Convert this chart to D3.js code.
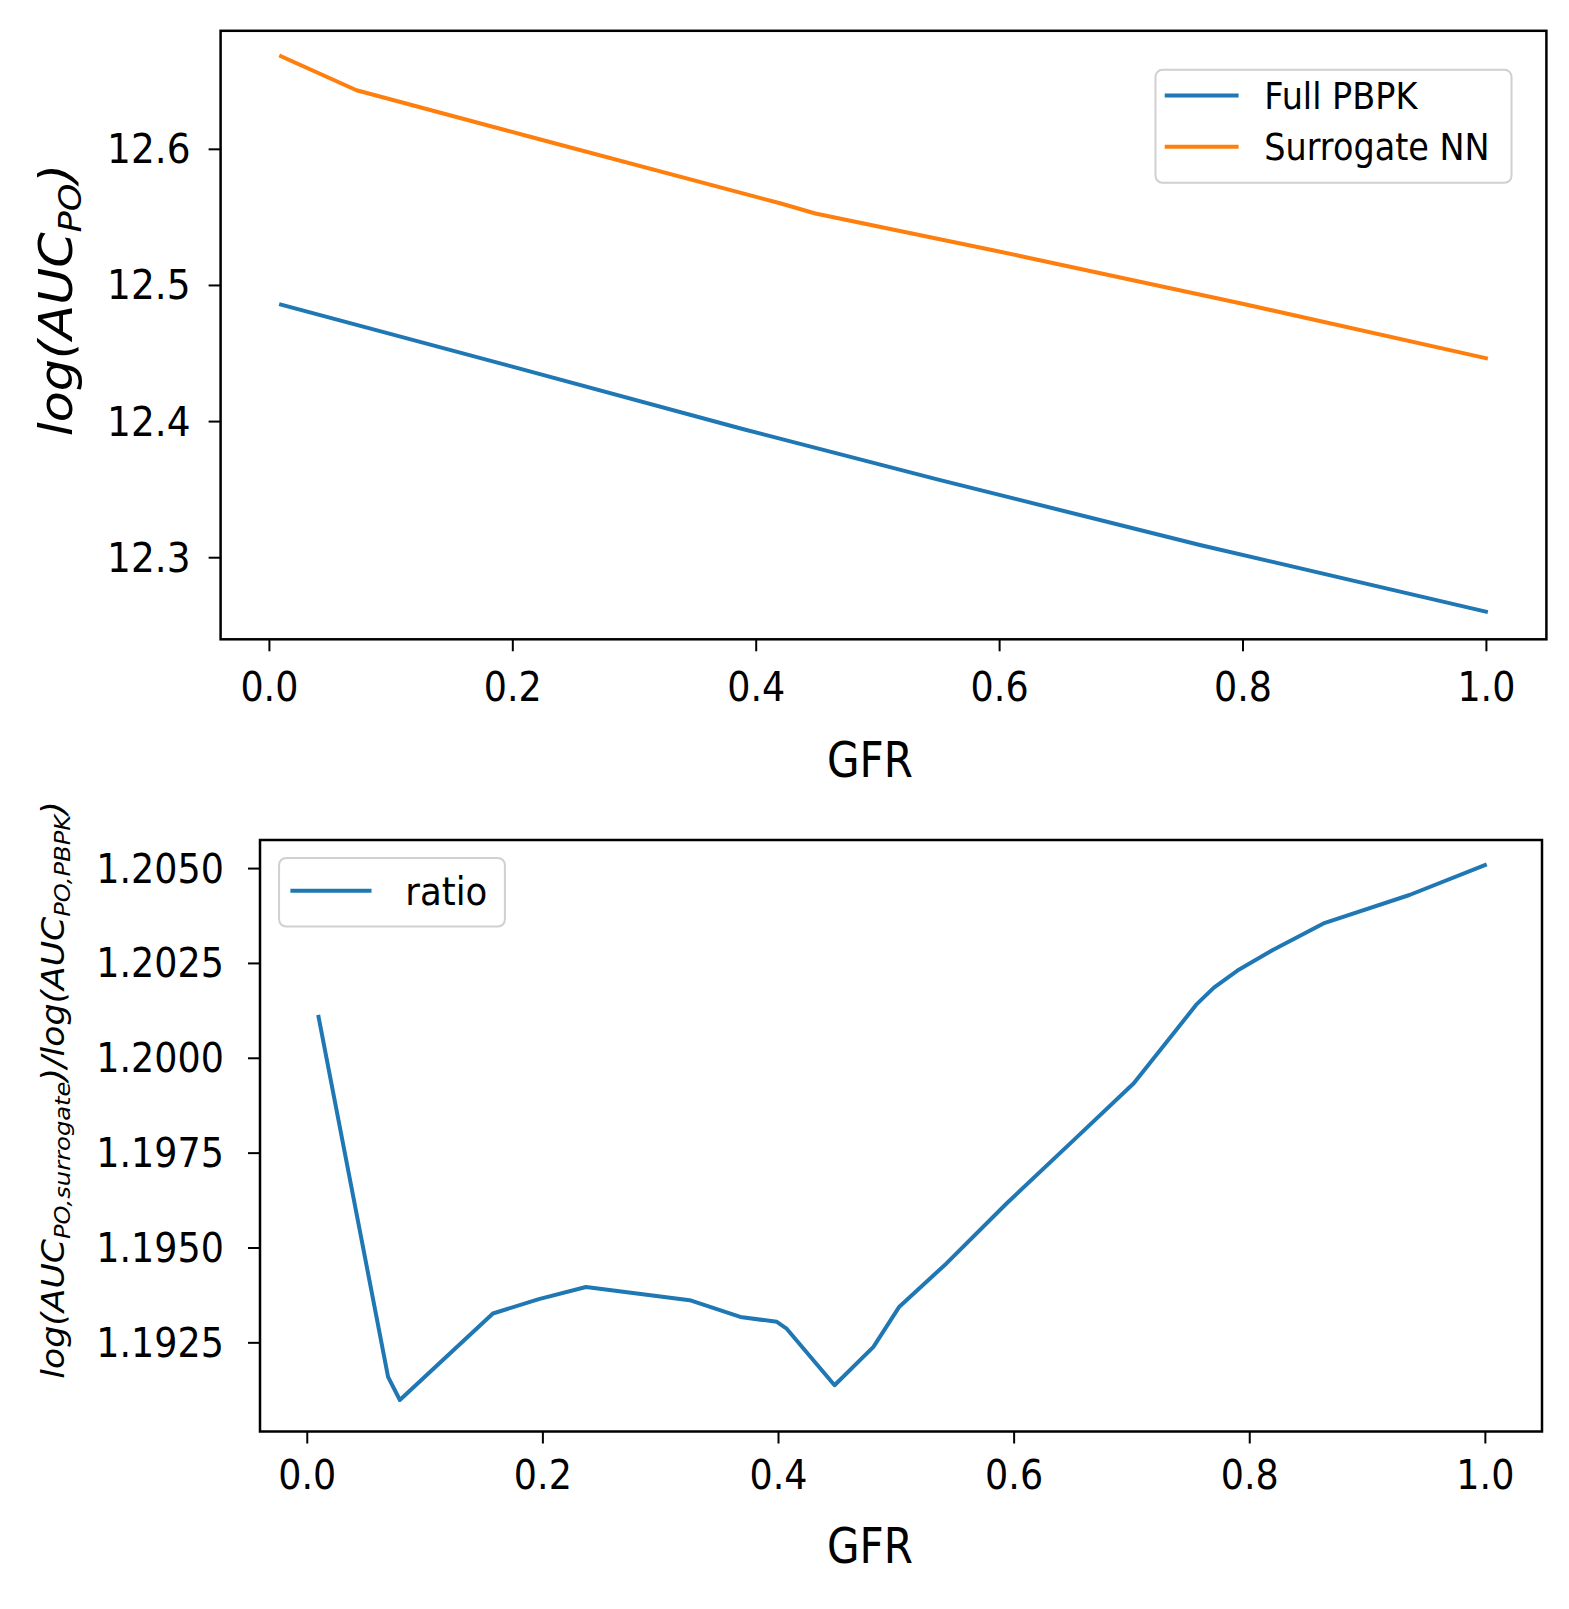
<!DOCTYPE html>
<html>
<head>
<meta charset="utf-8">
<script src="https://cdn.jsdelivr.net/npm/d3@7"></script>
<style>
  body { margin: 0; background: #fff; }
  text { font-family: "DejaVu Sans", sans-serif; fill: #000; }
</style>
</head>
<body>
<div id="chart"></div>
<script>
// valeurs
const gfrFull = [0.01, 0.20, 0.39, 0.55, 0.765, 1.0];
const aucFull = [12.4855, 12.440, 12.394, 12.357, 12.309, 12.260];

const gfrNN = [0.01, 0.072, 0.21, 0.42, 0.449, 0.60, 0.80, 1.0];
const aucNN = [12.668, 12.643, 12.610, 12.560, 12.5525, 12.5246, 12.4862, 12.4462];

const gfrRatio = [0.01, 0.069, 0.079, 0.158, 0.197, 0.237, 0.325, 0.368, 0.399, 0.407, 0.448, 0.481,
                  0.503, 0.543, 0.594, 0.651, 0.702, 0.738, 0.755, 0.770, 0.790, 0.820, 0.863, 0.936, 1.0];
const ratio = [1.20108, 1.19159, 1.19098, 1.19326, 1.19364, 1.19396, 1.19361, 1.19317, 1.19304, 1.19287, 1.19137, 1.19238,
               1.19344, 1.19458, 1.19616, 1.19783, 1.19933, 1.20073, 1.20140, 1.20185, 1.20230, 1.20284, 1.20354, 1.20429, 1.20508];

const xTicks = [0, 0.2, 0.4, 0.6, 0.8, 1.0];
const topYTicks = [12.3, 12.4, 12.5, 12.6];
const botYTicks = [1.1925, 1.1950, 1.1975, 1.2000, 1.2025, 1.2050];

// limites des axes (marges matplotlib)
const topXLim = [-0.0397, 1.0497], topYLim = [12.2397, 12.6867];
const botXLim = [-0.0397, 1.0485], botYLim = [1.19015, 1.20574];

const W = 1569, H = 1609;
const SY = 1.1; // le texte de l'image est un peu étiré verticalement
const blue = "#1f77b4", orange = "#ff7f0e";

const svg = d3.select("#chart").append("svg")
    .attr("width", W)
    .attr("height", H);

function panel(box, xLim, yLim, yTicks, yFmt) {
  const x = d3.scaleLinear().domain(xLim).range([box.left, box.right]);
  const y = d3.scaleLinear().domain(yLim).range([box.bottom, box.top]);

  const g = svg.append("g");

  // axe x
  const gx = g.append("g")
      .attr("transform", "translate(0," + box.bottom + ")")
      .call(d3.axisBottom(x).tickValues(xTicks).tickFormat(d3.format(".1f")).tickSize(12).tickPadding(0));
  gx.select(".domain").remove();
  gx.selectAll(".tick line").attr("stroke", "#000").attr("stroke-width", 2);
  gx.selectAll(".tick text")
      .attr("y", null).attr("dy", null)
      .attr("font-size", 36.5)
      .attr("transform", "translate(0," + box.xTickBase + ") scale(1," + SY + ")");

  // axe y
  const gy = g.append("g")
      .attr("transform", "translate(" + box.left + ",0)")
      .call(d3.axisLeft(y).tickValues(yTicks).tickFormat(yFmt).tickSize(12).tickPadding(0));
  gy.select(".domain").remove();
  gy.selectAll(".tick line").attr("stroke", "#000").attr("stroke-width", 2);
  gy.selectAll(".tick text")
      .attr("x", null).attr("dy", null)
      .attr("font-size", box.yTickFs)
      .attr("text-anchor", "end")
      .attr("transform", "translate(" + box.yTickRight + ",14) scale(1," + SY + ")");

  // cadre
  g.append("rect")
      .attr("x", box.left).attr("y", box.top)
      .attr("width", box.right - box.left).attr("height", box.bottom - box.top)
      .attr("fill", "none").attr("stroke", "#000").attr("stroke-width", 2.5);

  return {x, y, g};
}

function drawLine(p, xs, ys, color) {
  const pts = xs.map((d, i) => [d, ys[i]]);
  p.g.append("path")
      .datum(pts)
      .attr("fill", "none")
      .attr("stroke", color)
      .attr("stroke-width", 4)
      .attr("stroke-linejoin", "round")
      .attr("stroke-linecap", "square")
      .attr("d", d3.line().x(d => p.x(d[0])).y(d => p.y(d[1])));
}

function legend(box, items, fs) {
  const lg = svg.append("g");
  lg.append("rect")
      .attr("x", box.x).attr("y", box.y)
      .attr("width", box.w).attr("height", box.h)
      .attr("rx", 7)
      .attr("fill", "rgba(255,255,255,0.8)")
      .attr("stroke", "#d0d0d0").attr("stroke-width", 2);
  items.forEach((it, i) => {
    const yy = box.firstY + i * box.step;
    lg.append("line")
        .attr("x1", box.lineX1).attr("x2", box.lineX2)
        .attr("y1", yy).attr("y2", yy)
        .attr("stroke", it.color).attr("stroke-width", 4);
    lg.append("text")
        .attr("font-size", fs)
        .attr("transform", "translate(" + box.textX + "," + (yy + 0.365 * fs * SY) + ") scale(1," + SY + ")")
        .text(it.label);
  });
}

function xLabel(cx, base) {
  svg.append("text")
      .attr("font-size", 42)
      .attr("text-anchor", "middle")
      .attr("transform", "translate(" + cx + "," + base + ") scale(1,1.2)")
      .text("GFR");
}

// ---- graphique du haut
const topBox = {left: 220.6, right: 1546.4, top: 30.8, bottom: 639.3, xTickBase: 62, yTickRight: -30, yTickFs: 37.5};
const p1 = panel(topBox, topXLim, topYLim, topYTicks, d3.format(".1f"));
drawLine(p1, gfrFull, aucFull, blue);
drawLine(p1, gfrNN, aucNN, orange);
legend({x: 1155.5, y: 69.8, w: 356, h: 113, firstY: 95.4, step: 51.3, lineX1: 1164.7, lineX2: 1238.6, textX: 1264.2},
       [{label: "Full PBPK", color: blue}, {label: "Surrogate NN", color: orange}], 33.5);
xLabel(870, 777);

const yl1 = svg.append("text")
    .attr("font-size", 46)
    .attr("font-style", "italic")
    .attr("text-anchor", "middle")
    .attr("transform", "translate(72,300) rotate(-90) scale(" + SY + ",1)");
yl1.append("tspan").text("log(AUC");
yl1.append("tspan").attr("font-size", 32).attr("dy", 9).text("PO");
yl1.append("tspan").attr("dy", -9).text(")");

// ---- graphique du bas
const botBox = {left: 260, right: 1542, top: 840, bottom: 1431.5, xTickBase: 57.5, yTickRight: -36, yTickFs: 36.5};
const p2 = panel(botBox, botXLim, botYLim, botYTicks, d3.format(".4f"));
drawLine(p2, gfrRatio, ratio, blue);
legend({x: 279.1, y: 857.9, w: 225.8, h: 68.7, firstY: 890.7, step: 0, lineX1: 290.4, lineX2: 371.5, textX: 405.3},
       [{label: "ratio", color: blue}], 35.6);
xLabel(870, 1563);

const yl2 = svg.append("text")
    .attr("font-size", 31.5)
    .attr("font-style", "italic")
    .attr("text-anchor", "middle")
    .attr("transform", "translate(64,1090) rotate(-90) scale(" + SY + ",1)");
yl2.append("tspan").text("log(AUC");
yl2.append("tspan").attr("font-size", 22).attr("dy", 6).text("PO,surrogate");
yl2.append("tspan").attr("dy", -6).text(")/log(AUC");
yl2.append("tspan").attr("font-size", 22).attr("dy", 6).text("PO,PBPK");
yl2.append("tspan").attr("dy", -6).text(")");
</script>
</body>
</html>
